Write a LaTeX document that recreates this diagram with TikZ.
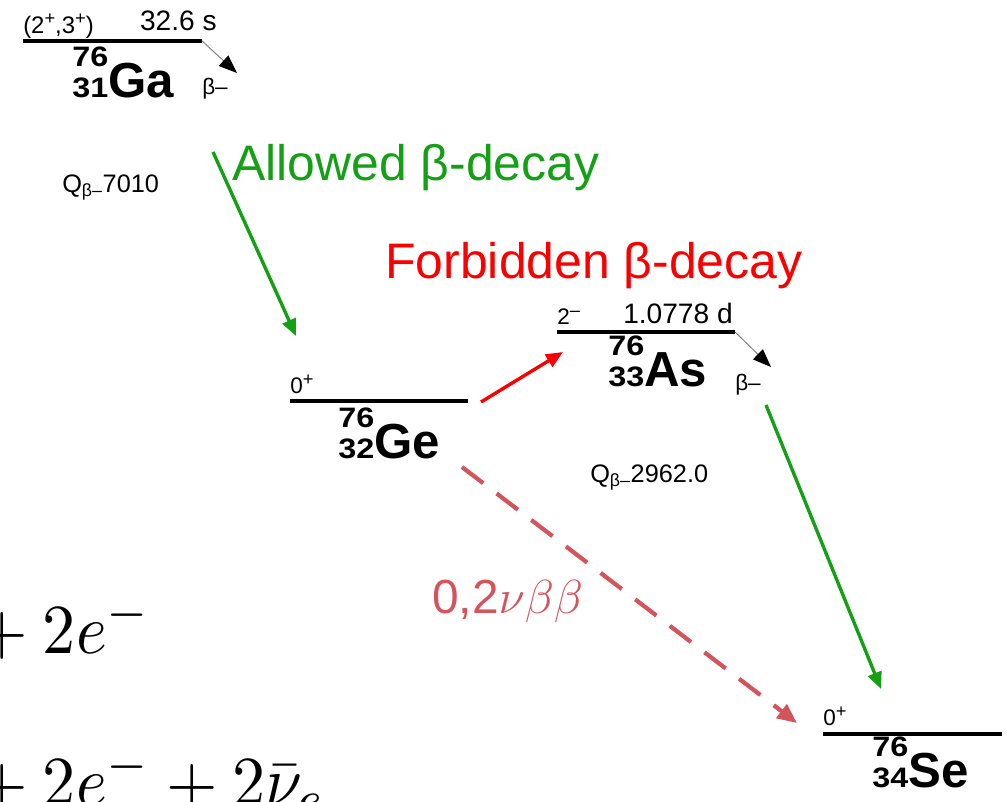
\RequirePackage{fix-cm}
\documentclass[tikz,border=0pt]{standalone}
\usepackage{graphicx}
\usepackage{fontspec}
\usetikzlibrary{arrows.meta}
\newfontfamily\hv{Liberation Sans}
\definecolor{allowgreen}{RGB}{20,160,20}
\definecolor{forbidred}{RGB}{250,0,0}
\definecolor{dbdred}{RGB}{212,84,92}
% nucleus symbol: mass number over charge number, then element
\newcommand{\nuc}[3]{{\bfseries\scalebox{1.15}[1]{\fontsize{20}{20}\selectfont\rlap{\raisebox{1.08em}{#1}}#2}\fontsize{35}{35}\selectfont#3}}
% spin with raised parity sign
\newcommand{\spn}[2]{#1\raisebox{.35em}{\fontsize{13}{13}\selectfont#2}}
\tikzset{
  level/.style={line width=2.3pt},
  small/.style={font=\hv\fontsize{16}{16}\selectfont, inner sep=0pt},
  half/.style={font=\hv\fontsize{20}{20}\selectfont, inner sep=0pt, anchor=base east},
  qval/.style={font=\hv\fontsize{18}{18}\selectfont, inner sep=0pt, anchor=base west},
  nucl/.style={font=\hv, inner sep=0pt, anchor=base west},
  big/.style={font=\hv\fontsize{35.5}{35.5}\selectfont, inner sep=0pt, anchor=base west},
  betaarr/.style={gray, line width=.7pt, -{Triangle[length=13pt,width=10pt,black]}},
  decay/.style={line width=2.4pt, -{Triangle[length=12pt,width=10pt]}},
}
\begin{document}
\begin{tikzpicture}[x=0.025cm, y=-0.025cm]
\useasboundingbox (0,0) rectangle (1007,802);
\clip (0,0) rectangle (1007,802);
% energy levels
\coordinate (gaL) at (23,41);   \coordinate (gaR) at (202,41);
\coordinate (geL) at (290,401); \coordinate (geR) at (468,401);
\coordinate (asL) at (557,332); \coordinate (asR) at (735,332);
\coordinate (seL) at (823,734); \coordinate (seR) at (1002,734);
\draw[level] (gaL) -- (gaR);
\draw[level] (geL) -- (geR);
\draw[level] (asL) -- (asR);
\draw[level] (seL) -- (seR);
% spins and half-lives
\node[small, anchor=base west, font=\hv\fontsize{17}{17}\selectfont] (gaspin) at (23,33) {(\spn{2}{+},\spn{3}{+})};
\node[half] (gahalf) at (217,30) {32.6 s};
\node[small, anchor=base west] (gespin) at (290,393) {\spn{0}{+}};
\node[small, anchor=base west] (asspin) at (557,324) {\spn{2}{–}};
\node[half] (ashalf) at (733,323) {1.0778 d};
\node[small, anchor=base west] (sespin) at (823,725) {\spn{0}{+}};
% nuclei
\node[nucl] (ga) at (72,97) {\nuc{76}{31}{Ga}};
\node[nucl] (ge) at (338,458) {\nuc{76}{32}{Ge}};
\node[nucl] (as) at (608,386) {\nuc{76}{33}{As}};
\node[nucl] (se) at (872,787) {\nuc{76}{34}{Se}};
% beta- branches
\coordinate (gaB) at (237,73);
\coordinate (asB) at (771,367);
\draw[betaarr] (gaR) -- (gaB);
\draw[betaarr] (asR) -- (asB);
\node[small, anchor=base west] (gabeta) at (202,94) {β–};
\node[small, anchor=base west] (asbeta) at (735,390) {β–};
\node[qval] (gaq) at (62,192) {Q\textsubscript{β–}7010};
\node[qval] (asq) at (590,482) {Q\textsubscript{β–}2962.0};
% decays
\coordinate (allowA) at (213,152);  \coordinate (allowB) at (296,336);
\coordinate (allowC) at (766,405);  \coordinate (allowD) at (881,689);
\coordinate (forbA) at (481,402);   \coordinate (forbB) at (563,352);
\coordinate (dbdA) at (462,467);    \coordinate (dbdB) at (797,723);
\draw[decay, allowgreen] (allowA) -- (allowB);
\draw[decay, allowgreen] (allowC) -- (allowD);
\draw[decay, forbidred] (forbA) -- (forbB);
\draw[dbdred, line width=3pt, dash pattern=on 19pt off 12pt,
  -{Triangle[length=14pt,width=12pt]}] (dbdA) -- (dbdB);
\node[big, allowgreen] (allowtxt) at (232,180) {Allowed β-decay};
\node[big, forbidred] (forbtxt) at (385,278) {Forbidden β-decay};
\node[big, dbdred, font=\hv\fontsize{34}{34}\selectfont] (dbdtxt) at (432,613) {0,2$\nu\beta\beta$};
% equations cut by the left edge
\node[inner sep=0pt, anchor=base west] (eqa) at (-38,653) {\scalebox{4.7}[5]{${}+2e^{-}$}};
\node[inner sep=0pt, anchor=base west] (eqb) at (-38,805) {\scalebox{4.7}[5]{${}+2e^{-}+2\bar{\nu}_e$}};
\end{tikzpicture}
\end{document}
